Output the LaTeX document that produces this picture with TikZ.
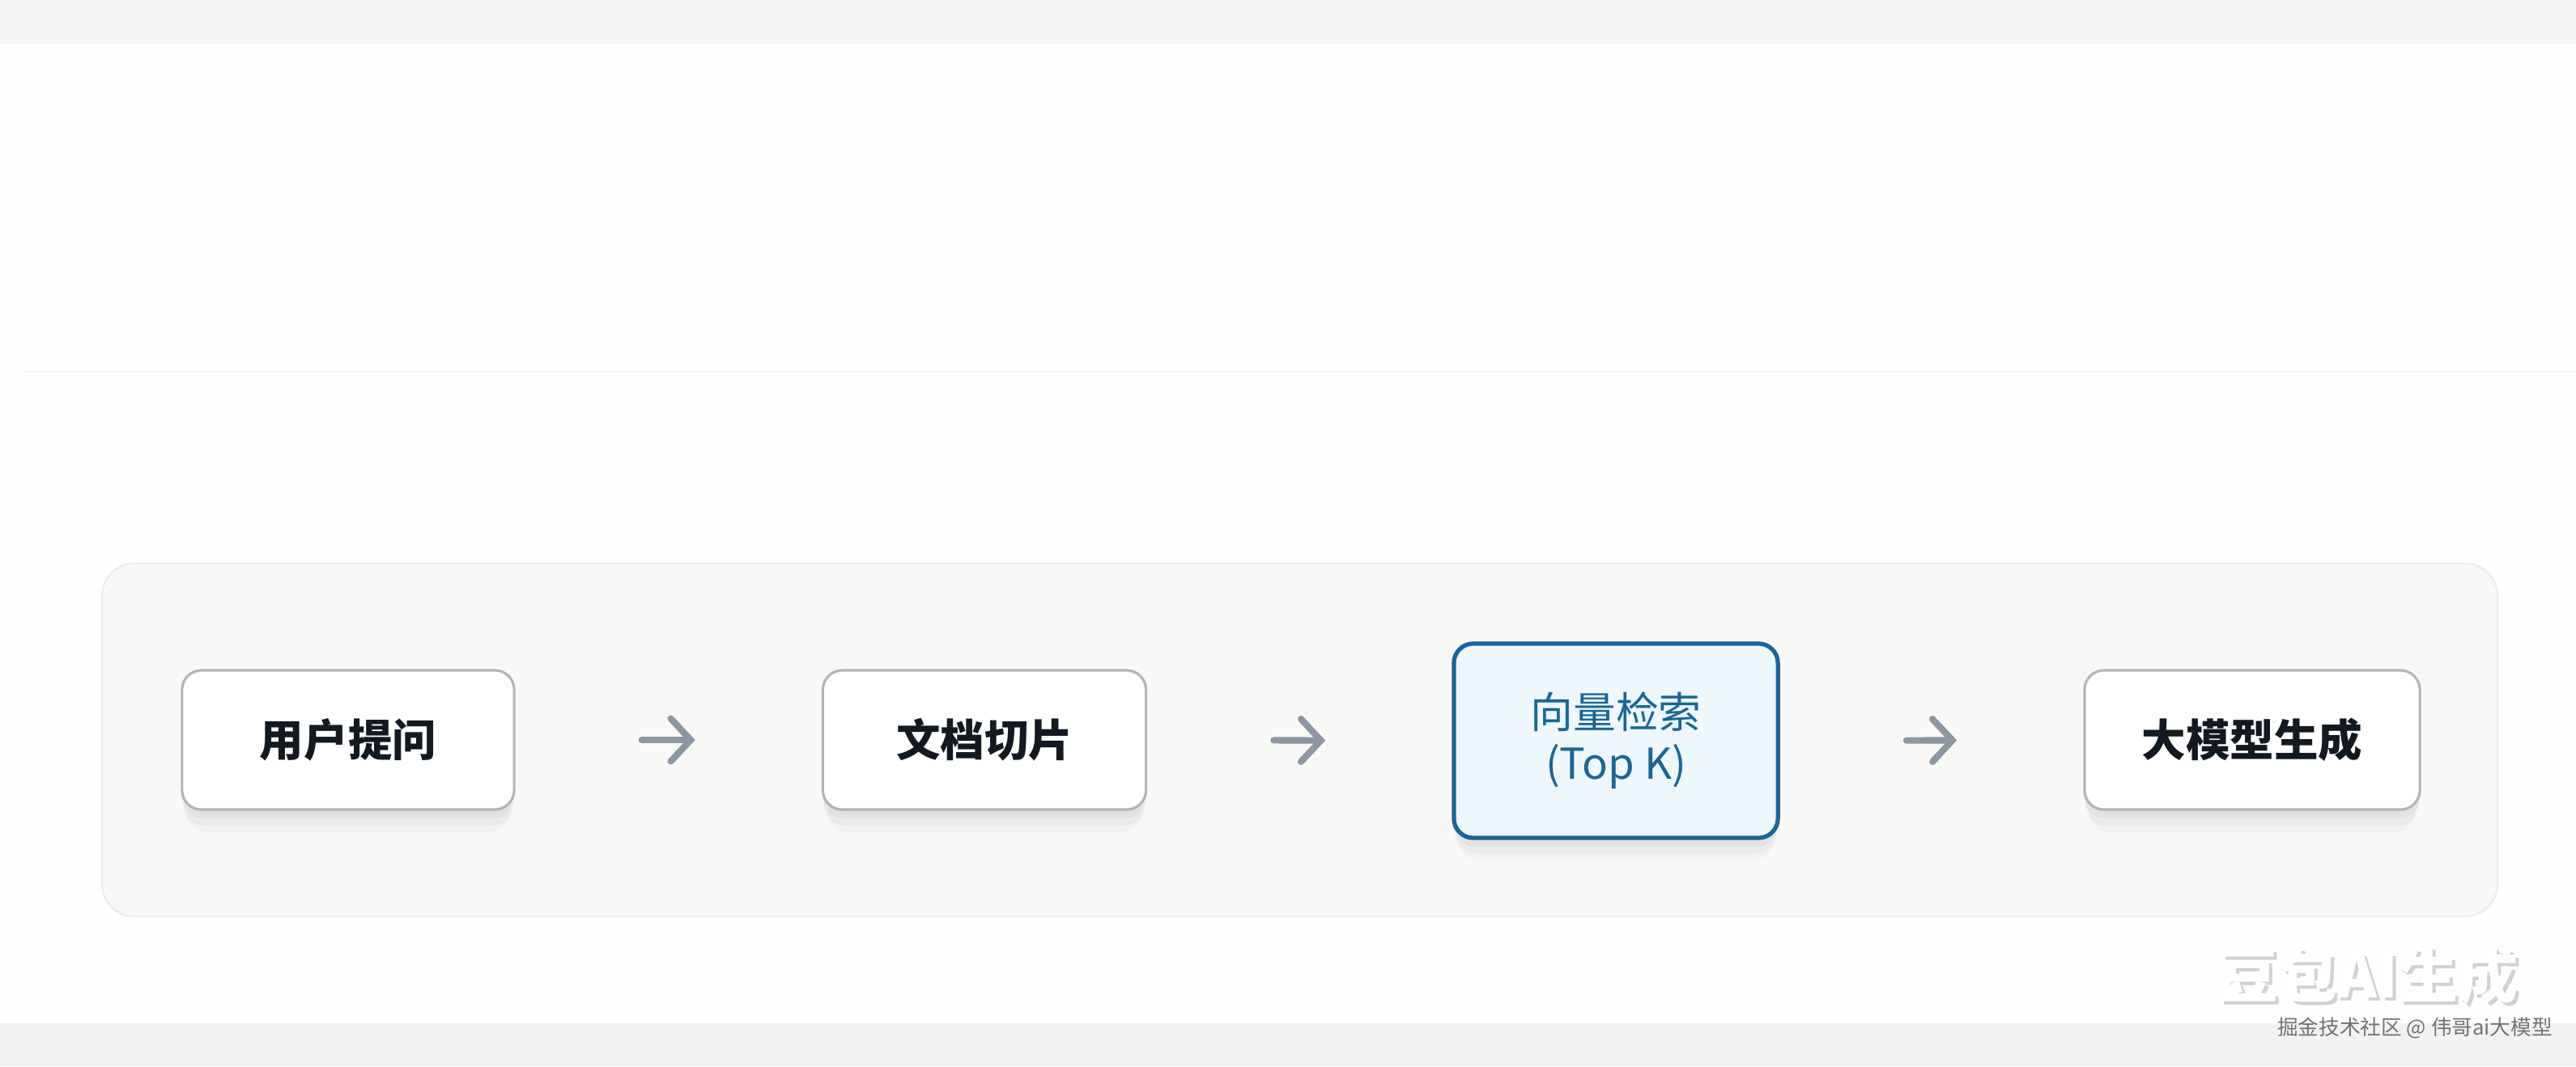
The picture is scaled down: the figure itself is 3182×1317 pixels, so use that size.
\documentclass[tikz,border=0pt]{standalone}
\usepackage{fontspec}
\newfontfamily\cjk{Noto Sans CJK SC}
\usetikzlibrary{arrows.meta,shadows}

\definecolor{pagebg}{HTML}{FEFEFE}
\definecolor{bandgray}{HTML}{F4F5F7}
\definecolor{footgray}{HTML}{F2F2F2}
\definecolor{panelfill}{HTML}{F8F8F7}
\definecolor{panelline}{HTML}{EBEBEA}
\definecolor{boxline}{HTML}{B4B4B4}
\definecolor{textdark}{HTML}{121921}
\definecolor{keyblue}{HTML}{1A6698}
\definecolor{keyfill}{HTML}{EEF7FC}
\definecolor{arrowgray}{HTML}{8C97A3}

\begin{document}
\begin{tikzpicture}[x=0.01cm,y=-0.01cm,
  softshadow/.style={general shadow={fill=black,opacity=.035,shadow yshift=-3pt},
    general shadow={fill=black,opacity=.03,shadow yshift=-6pt,shadow scale=.99},
    general shadow={fill=black,opacity=.02,shadow yshift=-9pt,shadow scale=.97}},
  stepbox/.style={draw=boxline,line width=0.9pt,fill=white,rounded corners=0.24cm,
    minimum height=1.72cm,text=textdark,align=center,
    font=\cjk\bfseries\fontsize{15.5}{18}\selectfont,softshadow},
  keybox/.style={stepbox,draw=keyblue,line width=1.5pt,fill=keyfill,text=keyblue,
    font=\cjk\fontsize{15}{18}\selectfont},
  flow/.style={draw=arrowgray,line width=2.3pt,line cap=round,
    -{Straight Barb[length=7pt,width=15pt,line cap=round]},
    shorten >=1.56cm,shorten <=1.56cm}]
\useasboundingbox (0,0) rectangle (3182,1317);
\fill[pagebg] (0,0) rectangle (3182,1317);
\fill[bandgray] (0,0) rectangle (3182,55);
\fill[footgray] (0,1264) rectangle (3182,1317);
\draw[panelline!60,line width=0.6pt] (30,459) -- (3182,459);
% panel
\draw[panelline,line width=0.6pt,fill=panelfill,rounded corners=0.4cm] (126,696) rectangle (3085,1132);
% steps
\node[stepbox,minimum width=4.1cm] (ask) at (430,914) {用户提问};
\node[stepbox,minimum width=3.99cm] (chunk) at (1216,914) {文档切片};
\node[keybox,minimum width=4cm,minimum height=2.4cm] (search) at (1996,915) {向量检索\\(Top K)};
\node[stepbox,minimum width=4.14cm] (gen) at (2782,914) {大模型生成};
\draw[flow] (ask.east) -- (chunk.west);
\draw[flow] (chunk.east) -- (search.west);
\draw[flow] (search.east) -- (gen.west);
% watermark
\node[text=black!18,font=\cjk\bfseries\fontsize{21}{24}\selectfont] at (2929,1208) {豆包AI生成};
\node[text=white,font=\cjk\bfseries\fontsize{21}{24}\selectfont] (mark) at (2925,1204) {豆包AI生成};
\node[text=black!55,font=\cjk\fontsize{7.3}{9}\selectfont] (site) at (2983,1270) {掘金技术社区 @ 伟哥ai大模型};
\end{tikzpicture}
\end{document}
